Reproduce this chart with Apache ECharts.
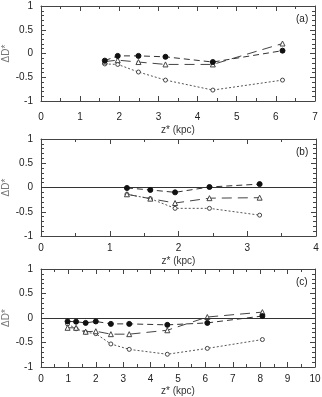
<!DOCTYPE html>
<html><head><meta charset="utf-8">
<script src="https://cdn.jsdelivr.net/npm/echarts@6/dist/echarts.min.js"></script>
<style>html,body{margin:0;padding:0;background:#fff}#c{width:322px;height:397px}</style>
</head><body><div id="c"></div>
<script>
// Panel (a)
const xA = [1.63, 1.96, 2.49, 3.18, 4.39, 6.17];
const filledA = [-0.15, -0.05, -0.05, -0.07, -0.18, 0.06];
const triA = [-0.17, -0.14, -0.18, -0.23, -0.23, 0.21];
const openA = [-0.22, -0.23, -0.39, -0.56, -0.77, -0.56];
// Panel (b)
const xB = [1.25, 1.59, 1.95, 2.45, 3.18];
const filledB = [-0.01, -0.05, -0.10, 0.01, 0.07];
const triB = [-0.14, -0.23, -0.32, -0.22, -0.21];
const openB = [-0.14, -0.23, -0.43, -0.43, -0.57];
// Panel (c)
const xC = [0.97, 1.28, 1.63, 2.0, 2.55, 3.22, 4.61, 6.07, 8.08];
const filledC = [-0.07, -0.075, -0.10, -0.07, -0.12, -0.12, -0.14, -0.10, 0.04];
const triC = [-0.20, -0.20, -0.28, -0.27, -0.33, -0.33, -0.25, 0.02, 0.12];
const openC = [-0.12, -0.22, -0.29, -0.32, -0.53, -0.64, -0.74, -0.62, -0.44];

const xMax = [7, 4, 10];
const yTicks = [-1, -0.5, 0, 0.5, 1];
const xLabel = 'z* (kpc)';
const yLabel = 'ΔD*';
const panelLabels = ['(a)', '(b)', '(c)'];

const FONT = 'Liberation Sans, Arial, sans-serif';
const panels = [
  {x: xA, f: filledA, t: triA, o: openA, top: 6, h: 95, right: 7, lm: 11, ng: 24, zero: false},
  {x: xB, f: filledB, t: triB, o: openB, top: 139, h: 97, right: 6, lm: 7, ng: 20, zero: true},
  {x: xC, f: filledC, t: triC, o: openC, top: 269, h: 98, right: 7, lm: 7, ng: 19, zero: true}
];
const zip = (xs, ys) => xs.map((v, i) => [v, ys[i]]);
const grid = [], xAxis = [], yAxis = [], series = [], graphic = [];
const lineCol = '#444';
panels.forEach((p, i) => {
  grid.push({left: 41, right: p.right, top: p.top, height: p.h, containLabel: false, outerBoundsMode: 'none'});
  const tickBase = {show: true, inside: true, length: 5, lineStyle: {color: lineCol}};
  const minorBase = {show: true, splitNumber: 2, length: 3, lineStyle: {color: lineCol}};
  xAxis.push({gridIndex: i, type: 'value', min: 0, max: xMax[i], interval: 1, position: 'bottom',
    axisLine: {show: true, onZero: false, lineStyle: {color: lineCol}},
    axisTick: tickBase, minorTick: minorBase, splitLine: {show: false},
    axisLabel: {margin: p.lm, fontFamily: FONT, fontSize: 10, color: '#222'},
    name: xLabel, nameLocation: 'middle', nameGap: p.ng, nameMoveOverlap: false,
    nameTextStyle: {fontFamily: FONT, fontSize: 10, color: '#333'}});
  xAxis.push({gridIndex: i, type: 'value', min: 0, max: xMax[i], interval: 1, position: 'top',
    axisLine: {show: true, onZero: false, lineStyle: {color: lineCol}},
    axisTick: tickBase, minorTick: minorBase, splitLine: {show: false}, axisLabel: {show: false}});
  const yMinor = {show: true, splitNumber: 5, length: 3, lineStyle: {color: lineCol}};
  yAxis.push({gridIndex: i, type: 'value', min: yTicks[0], max: yTicks[yTicks.length - 1], interval: 0.5, position: 'left',
    axisLine: {show: true, onZero: false, lineStyle: {color: lineCol}},
    axisTick: tickBase, minorTick: yMinor, splitLine: {show: false},
    axisLabel: {margin: 8, fontFamily: FONT, fontSize: 10, color: '#222'},
    name: yLabel, nameLocation: 'middle', nameGap: 30, nameRotate: 90, nameMoveOverlap: false,
    nameTextStyle: {fontFamily: FONT, fontSize: 10, color: '#777'}});
  yAxis.push({gridIndex: i, type: 'value', min: -1, max: 1, interval: 0.5, position: 'right',
    axisLine: {show: true, onZero: false, lineStyle: {color: lineCol}},
    axisTick: tickBase, minorTick: yMinor, splitLine: {show: false}, axisLabel: {show: false}});
  const xi = i * 2, yi = i * 2;
  const filled = {type: 'line', xAxisIndex: xi, yAxisIndex: yi, data: zip(p.x, p.f),
    symbol: 'circle', symbolSize: 5, itemStyle: {color: '#111', borderColor: '#111'},
    lineStyle: {color: '#333', width: 1, type: [6, 4]}, z: 5};
  if (p.zero) {
    filled.markLine = {silent: true, symbol: 'none', label: {show: false},
      lineStyle: {color: '#333', width: 1, type: 'solid'}, data: [{yAxis: 0}]};
  }
  series.push(filled);
  series.push({type: 'line', xAxisIndex: xi, yAxisIndex: yi, data: zip(p.x, p.t),
    symbol: 'triangle', symbolSize: 5, itemStyle: {color: '#fff', borderColor: '#444', borderWidth: 1},
    lineStyle: {color: '#444', width: 1, type: [10, 6]}, z: 4});
  series.push({type: 'line', xAxisIndex: xi, yAxisIndex: yi, data: zip(p.x, p.o),
    symbol: 'circle', symbolSize: 4, itemStyle: {color: '#fff', borderColor: '#444', borderWidth: 1},
    lineStyle: {color: '#555', width: 1, type: [2, 2]}, z: 3});
  graphic.push({type: 'text', x: 296, y: p.top + 8,
    style: {text: panelLabels[i], fontFamily: FONT, fontSize: 10, fill: '#222'}});
});
const chart = echarts.init(document.getElementById('c'), null, {renderer: 'canvas'});
chart.setOption({animation: false, backgroundColor: '#fff', grid, xAxis, yAxis, series, graphic});
</script></body></html>
